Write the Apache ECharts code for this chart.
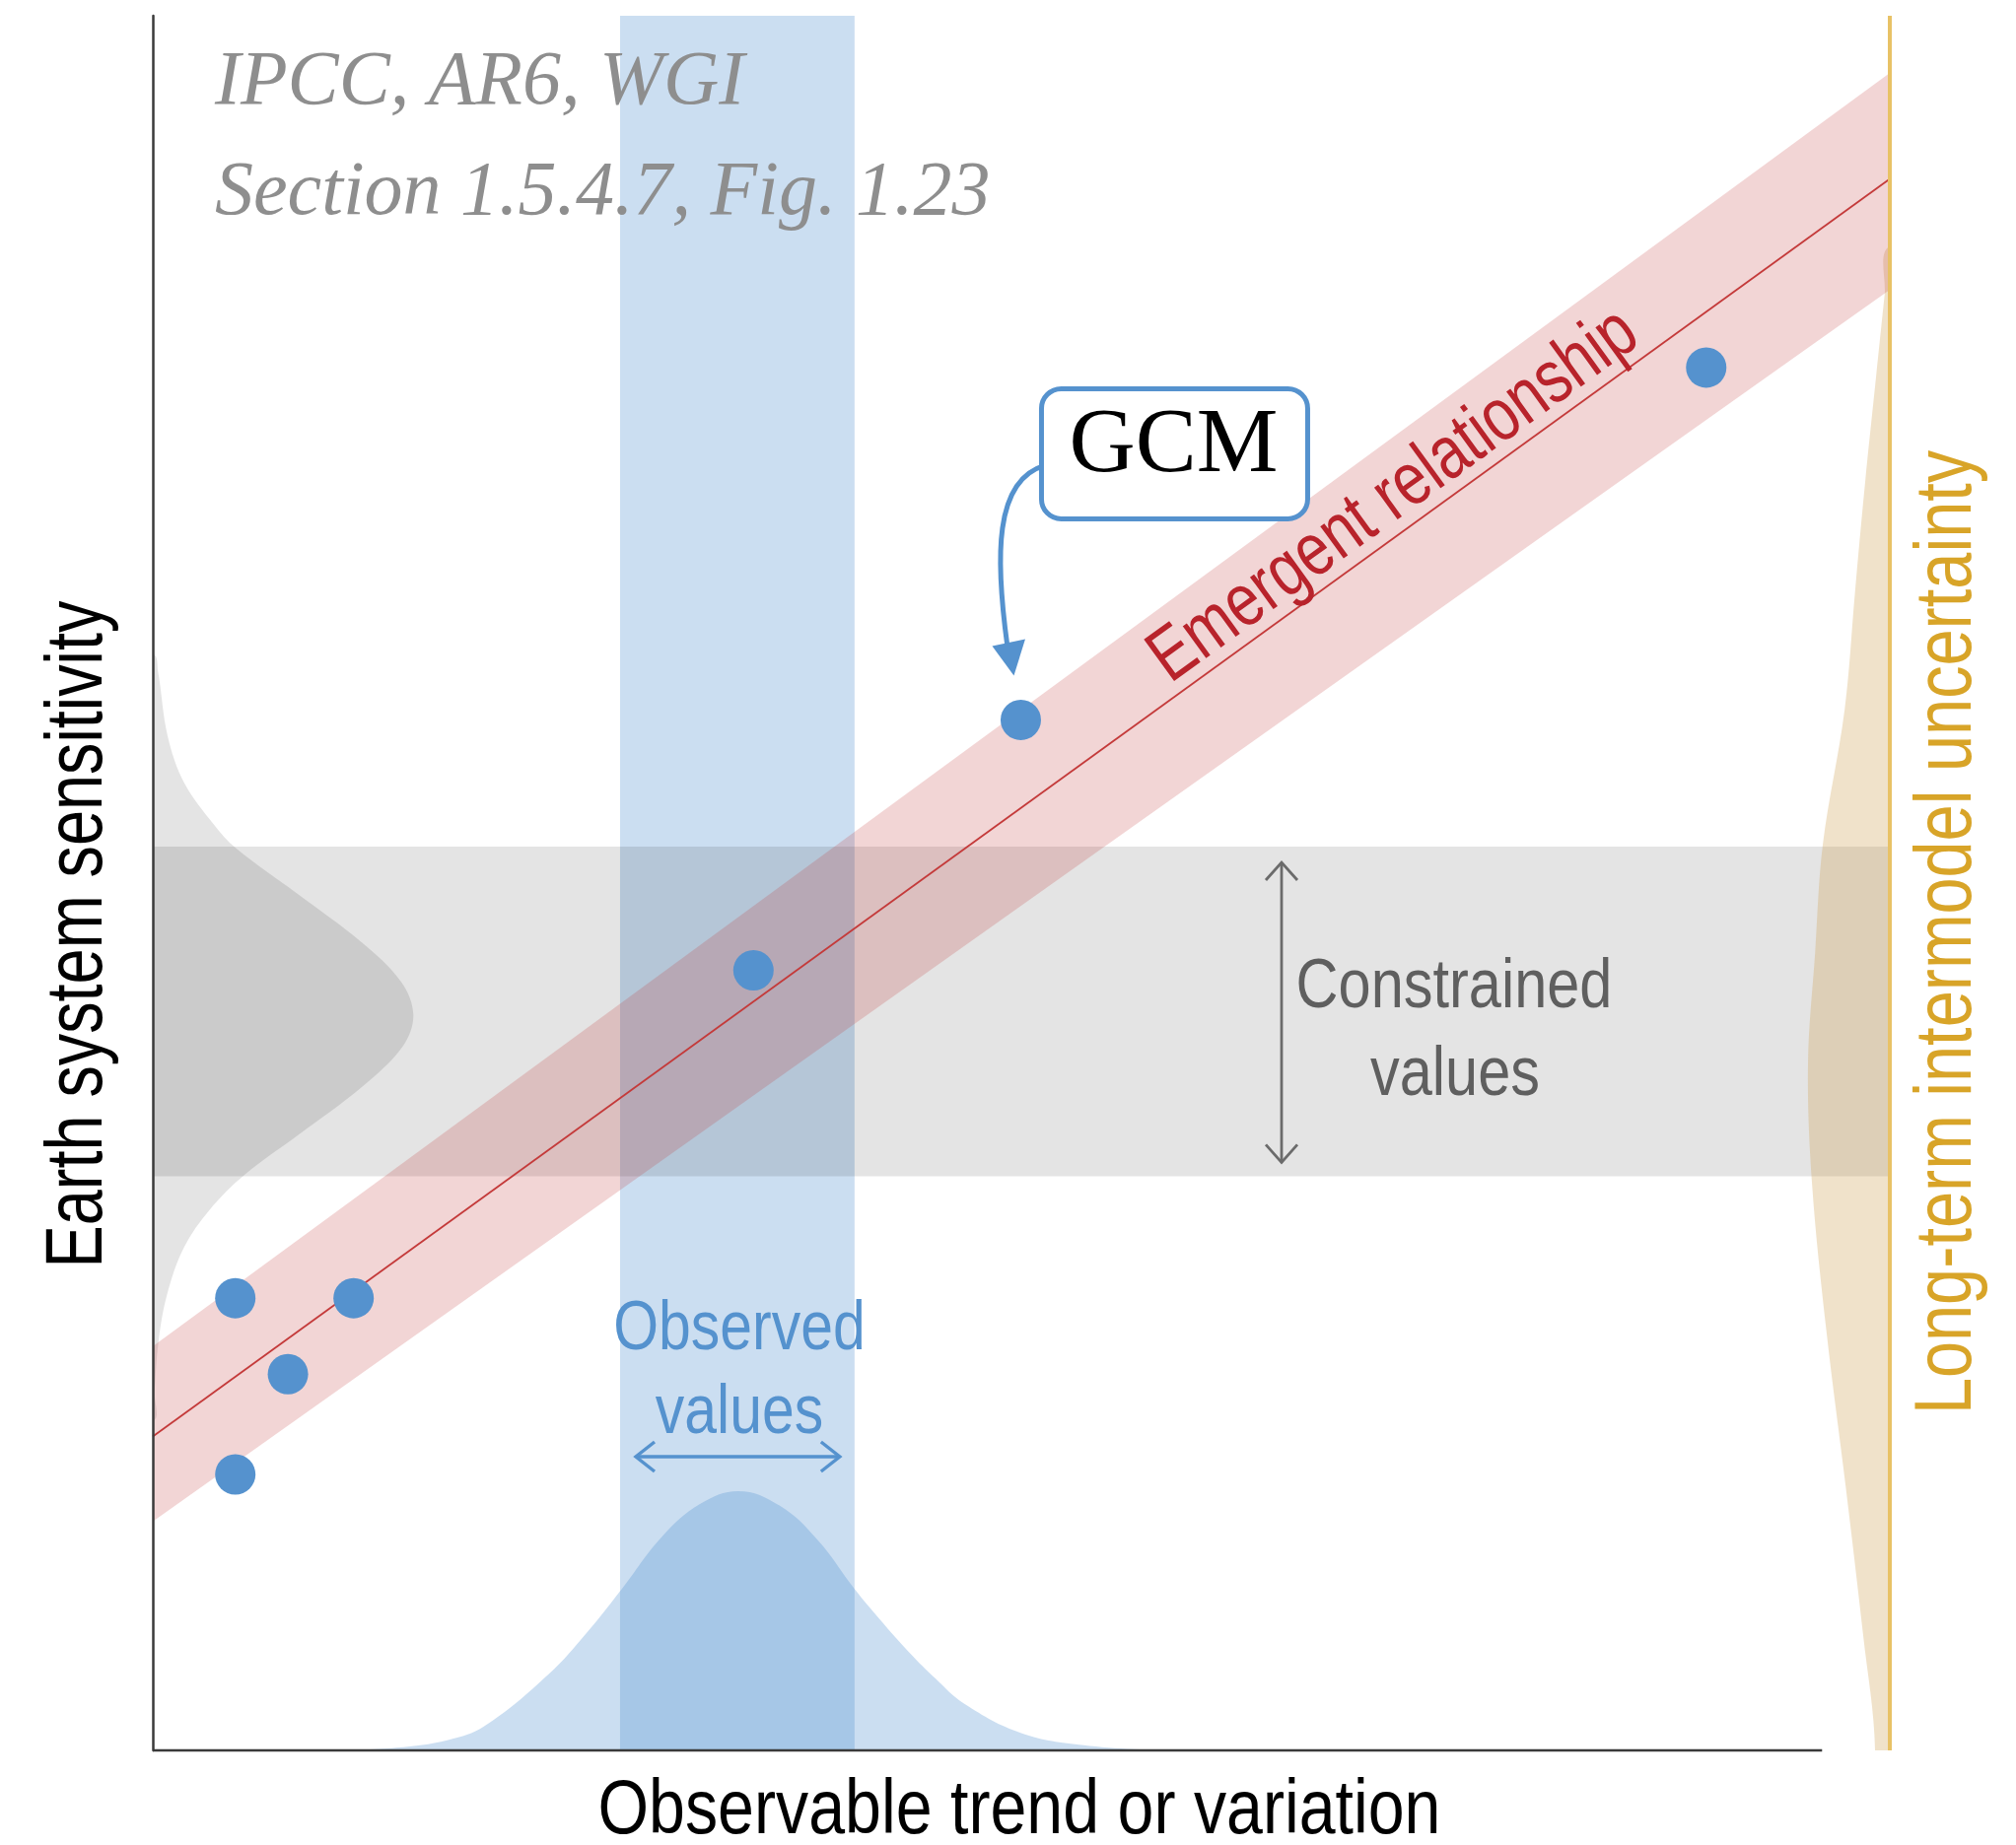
<!DOCTYPE html>
<html><head><meta charset="utf-8">
<script src="https://cdn.jsdelivr.net/npm/echarts@6/dist/echarts.min.js"></script>
<style>html,body{margin:0;padding:0;background:#fff}#c{width:2045px;height:1872px}</style>
</head><body><div id="c"></div>
<script>
// ---------- data (axis units 0..100) ----------
const dotsX = [4.75, 11.56, 7.78, 4.75, 34.58, 49.97, 89.43];
const dotsY = [26.07, 26.07, 21.69, 15.91, 44.97, 59.41, 79.72];

const lineX = [0, 100];
const lineY = [18.1, 90.6];
const bandUpper = [23.3, 96.7];
const bandLower = [13.2, 84.2];

const observedBand = [26.9, 40.4];     // x range
const constrainedBand = [33.1, 52.1];  // y range

const blueCurveX = [11.0, 14.0, 17.0, 19.1, 22.8, 25.0, 27.0, 29.3, 31.5, 33.7, 36.1, 38.3, 40.4, 41.9, 43.5, 45.1, 46.7, 50.0, 53.6, 58.0];
const blueCurveY = [0, 0.15, 0.6, 1.4, 4.4, 6.8, 9.3, 12.3, 14.2, 14.95, 14.1, 12.1, 9.3, 7.5, 5.7, 4.1, 2.7, 1.0, 0.3, 0];

const grayCurveY = [63.2, 62.2, 58.5, 55.8, 53.4, 52.0, 49.4, 46.6, 44.3, 42.4, 40.6, 38.3, 35.5, 33.2, 31.2, 29.0, 26.2, 23.5, 20.7, 19.0];
const grayCurveDepth = [0, 0.3, 0.85, 1.8, 3.5, 4.8, 8.3, 12.0, 14.3, 15.0, 14.4, 12.1, 8.4, 5.3, 3.3, 1.8, 0.8, 0.32, 0.1, 0];

const yellowCurveY = [86.7, 83.9, 79.1, 73.0, 66.8, 60.0, 52.2, 46.0, 39.6, 32.7, 24.0, 15.3, 6.6, 0];
const yellowCurveDepth = [0, 0.3, 0.8, 1.43, 2.0, 2.6, 3.86, 4.3, 4.71, 4.48, 3.63, 2.55, 1.53, 0.85];

const xAxisLineEnd = 96.1;
const yellowLineX = 100;

// ---------- styles ----------
const BLUE = '#5592ce';
const SANS = '"Liberation Sans", Arial, sans-serif';
const SERIF = '"Liberation Serif", "Times New Roman", serif';

const chart = echarts.init(document.getElementById('c'), null, {renderer: 'canvas'});

function zip(a, b) { return a.map((v, i) => [v, b[i]]); }

const option = {
  animation: false,
  backgroundColor: '#ffffff',
  grid: {left: 155, right: 128, top: 16, bottom: 96},
  xAxis: {type: 'value', min: 0, max: 100, axisLine: {show: false}, axisTick: {show: false},
          axisLabel: {show: false}, splitLine: {show: false}},
  yAxis: {type: 'value', min: 0, max: 100, z: 20,
          axisLine: {show: true, lineStyle: {color: '#3a3a3a', width: 2.5}},
          axisTick: {show: false}, axisLabel: {show: false}, splitLine: {show: false}},
  series: [
    { // observed band (vertical)
      type: 'custom', z: 1, silent: true, data: [observedBand],
      renderItem: (p, api) => {
        const a = api.coord([api.value(0), 100]);
        const b = api.coord([api.value(1), 0]);
        return {type: 'rect', shape: {x: a[0], y: a[1], width: b[0] - a[0], height: b[1] - a[1]},
                style: {fill: 'rgba(83,147,207,0.30)'}};
      }
    },
    { // observed distribution
      type: 'line', z: 2, silent: true, data: zip(blueCurveX, blueCurveY), smooth: 0.4,
      symbol: 'none', lineStyle: {width: 0}, areaStyle: {color: 'rgba(83,147,207,0.30)', opacity: 1}
    },
    { // constrained band (horizontal)
      type: 'custom', z: 3, silent: true, data: [constrainedBand],
      renderItem: (p, api) => {
        const a = api.coord([0, api.value(1)]);
        const b = api.coord([100, api.value(0)]);
        return {type: 'rect', shape: {x: a[0], y: a[1], width: b[0] - a[0], height: b[1] - a[1]},
                style: {fill: 'rgba(0,0,0,0.105)'}};
      }
    },
    { // prior distribution (left)
      type: 'custom', z: 4, silent: true, clip: true, data: [0],
      renderItem: (p, api) => {
        const n = grayCurveY.length;
        const pts = grayCurveY.map((y, i) => api.coord([grayCurveDepth[i], y]));
        // closing path runs outside the grid (clipped away)
        pts.push(api.coord([-6, grayCurveY[n - 1]]), api.coord([-6, grayCurveY[0]]));
        return {type: 'polygon', shape: {points: pts, smooth: 0.35}, style: {fill: 'rgba(0,0,0,0.105)'}};
      }
    },
    { // intermodel distribution (right)
      type: 'custom', z: 5, silent: true, clip: true, data: [0],
      renderItem: (p, api) => {
        const n = yellowCurveY.length;
        const pts = yellowCurveY.map((y, i) => api.coord([yellowLineX - yellowCurveDepth[i], y]));
        pts.push(api.coord([yellowLineX - yellowCurveDepth[n - 1] + 0.3, -40]),
                 api.coord([yellowLineX + 30, -40]),
                 api.coord([yellowLineX + 6, yellowCurveY[0]]));
        return {type: 'polygon', shape: {points: pts, smooth: 0.35}, style: {fill: 'rgba(205,160,80,0.30)'}};
      }
    },
    { // emergent relationship band
      type: 'custom', z: 6, silent: true, data: [0],
      renderItem: (p, api) => {
        const pts = [api.coord([lineX[0], bandLower[0]]), api.coord([lineX[1], bandLower[1]]),
                     api.coord([lineX[1], bandUpper[1]]), api.coord([lineX[0], bandUpper[0]])];
        return {type: 'polygon', shape: {points: pts}, style: {fill: 'rgba(195,55,55,0.21)'}};
      }
    },
    { // regression line
      type: 'line', z: 7, silent: true, data: zip(lineX, lineY), symbol: 'none',
      lineStyle: {color: '#c43a3a', width: 1.8}
    },
    { // right yellow axis line
      type: 'line', z: 8, silent: true, clip: false, data: [[yellowLineX, 0], [yellowLineX, 100]],
      symbol: 'none', lineStyle: {color: '#e8c266', width: 4}
    },
    { // x axis line
      type: 'line', z: 9, silent: true, clip: false, data: [[0, 0], [xAxisLineEnd, 0]],
      symbol: 'none', lineStyle: {color: '#3a3a3a', width: 2.5}
    },
    { // GCMs
      type: 'scatter', z: 10, silent: true, data: zip(dotsX, dotsY), symbolSize: 41,
      itemStyle: {color: BLUE, opacity: 1}
    }
  ]
};
chart.setOption(option);

// ---------- annotations ----------
const P = (x, y) => chart.convertToPixel({gridIndex: 0}, [x, y]);

function txt(text, x, y, size, family, fill, opts) {
  opts = opts || {};
  return {
    type: 'text', x: x, y: y, z: 100, silent: true,
    rotation: opts.rotation || 0, scaleX: opts.scaleX || 1, scaleY: 1,
    style: {
      text: text, x: 0, y: 0, fill: fill,
      fontSize: size, fontFamily: family, fontStyle: opts.italic ? 'italic' : 'normal',
      align: opts.align || 'center', verticalAlign: 'middle',
      textAlign: opts.align || 'center', textVerticalAlign: 'middle'
    }
  };
}

const g = [];
// source note
g.push(txt('IPCC, AR6, WGI', 218, 84, 78, SERIF, '#8e8e8e', {italic: true, align: 'left'}));
g.push(txt('Section 1.5.4.7, Fig. 1.23', 218, 196, 78, SERIF, '#8e8e8e', {italic: true, align: 'left'}));

// axis titles
g.push(txt('Observable trend or variation', 1034, 1838, 78, SANS, '#000', {scaleX: 0.85}));
g.push(txt('Earth system sensitivity', 80, 948, 82, SANS, '#000', {rotation: Math.PI / 2, scaleX: 0.79}));
g.push(txt('Long-term intermodel uncertainty', 1976, 946, 82, SANS, '#d8a428', {rotation: Math.PI / 2, scaleX: 0.813}));

// emergent relationship label
const p0 = P(lineX[0], lineY[0]), p1 = P(lineX[1], lineY[1]);
const theta = Math.atan2(p0[1] - p1[1], p1[0] - p0[0]);
const labX = 72.6;
const foot = P(labX, lineY[0] + (lineY[1] - lineY[0]) * (labX - lineX[0]) / (lineX[1] - lineX[0]));
const off = 34;
g.push(txt('Emergent relationship', foot[0] - off * Math.sin(theta), foot[1] - off * Math.cos(theta),
           76, SANS, '#b8232b', {rotation: theta, scaleX: 0.8}));

// constrained values
const cTop = P(0, constrainedBand[1])[1], cBot = P(0, constrainedBand[0])[1];
const ax = 1300, grayC = '#6b6b6b';
g.push({type: 'polyline', z: 100, silent: true, shape: {points: [[ax, cTop + 16], [ax, cBot - 14]]},
        style: {stroke: grayC, lineWidth: 2.8, fill: null}});
g.push({type: 'polyline', z: 100, silent: true, shape: {points: [[ax - 16, cTop + 34], [ax, cTop + 16], [ax + 16, cTop + 34]]},
        style: {stroke: grayC, lineWidth: 2.8, fill: null}});
g.push({type: 'polyline', z: 100, silent: true, shape: {points: [[ax - 16, cBot - 32], [ax, cBot - 14], [ax + 16, cBot - 32]]},
        style: {stroke: grayC, lineWidth: 2.8, fill: null}});
g.push(txt('Constrained', 1475, 1003, 70, SANS, '#5f5f5f', {scaleX: 0.85}));
g.push(txt('values', 1476, 1092, 70, SANS, '#5f5f5f', {scaleX: 0.85}));

// observed values
const oL = P(observedBand[0], 0)[0], oR = P(observedBand[1], 0)[0];
const ay = 1478;
g.push({type: 'polyline', z: 100, silent: true, shape: {points: [[oL + 16, ay], [oR - 15, ay]]},
        style: {stroke: BLUE, lineWidth: 3.4, fill: null}});
g.push({type: 'polyline', z: 100, silent: true, shape: {points: [[oL + 35, ay - 15], [oL + 16, ay], [oL + 35, ay + 15]]},
        style: {stroke: BLUE, lineWidth: 3.4, fill: null}});
g.push({type: 'polyline', z: 100, silent: true, shape: {points: [[oR - 34, ay - 15], [oR - 15, ay], [oR - 34, ay + 15]]},
        style: {stroke: BLUE, lineWidth: 3.4, fill: null}});
g.push(txt('Observed', 750, 1349, 71, SANS, BLUE, {scaleX: 0.83}));
g.push(txt('values', 750, 1434, 71, SANS, BLUE, {scaleX: 0.83}));

// GCM callout, anchored to the GCM point
const d = P(dotsX[5], dotsY[5]);
g.push({type: 'bezierCurve', z: 100, silent: true,
        shape: {x1: d[0] + 24, y1: d[1] - 258, cpx1: d[0] - 27, cpy1: d[1] - 243,
                cpx2: d[0] - 26, cpy2: d[1] - 165, x2: d[0] - 13.5, y2: d[1] - 74},
        style: {stroke: BLUE, lineWidth: 5, fill: null}});
g.push({type: 'polygon', z: 100, silent: true,
        shape: {points: [[d[0] - 29, d[1] - 75], [d[0] + 4.5, d[1] - 82], [d[0] - 7, d[1] - 45]]},
        style: {fill: BLUE}});
g.push({type: 'rect', z: 101, silent: true,
        shape: {x: d[0] + 21, y: d[1] - 336, width: 270, height: 132, r: 20},
        style: {fill: '#ffffff', stroke: BLUE, lineWidth: 5}});
const gcm = txt('GCM', d[0] + 155, d[1] - 277, 93, SERIF, '#000');
gcm.z = 102;
g.push(gcm);

chart.setOption({graphic: g});
</script>
</body></html>
